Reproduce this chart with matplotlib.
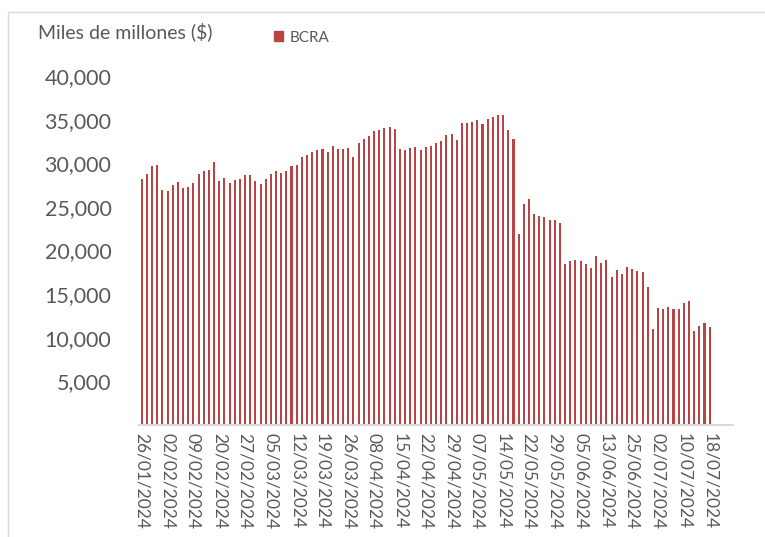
import matplotlib
matplotlib.use('Agg')
import matplotlib.pyplot as plt
from matplotlib.patches import Rectangle, Patch
from matplotlib.ticker import FuncFormatter

# BCRA, miles de millones de pesos, one value per business day
bcra = [28180, 28790, 29670, 29820, 26910, 26830, 27480, 27830, 27140, 27250,
        27750, 28750, 29090, 29200, 30120, 27940, 28360, 27750, 28060, 28180,
        28630, 28630, 27980, 27670, 28250, 28790, 29130, 28900, 29090, 29700,
        29850, 30700, 31000, 31270, 31500, 31620, 31340, 31920, 31650, 31650,
        31800, 30730, 32340, 32830, 33140, 33640, 33830, 34060, 34140, 33980,
        31620, 31460, 31770, 31850, 31500, 31850, 31960, 32300, 32530, 33220,
        33330, 32680, 34590, 34630, 34670, 34940, 34550, 35090, 35280, 35510,
        35510, 33830, 32800, 21870, 25310, 25950, 24160, 24000, 23820, 23540,
        23540, 23200, 18460, 18840, 18960, 18840, 18500, 18000, 19380, 18620,
        18920, 16930, 17740, 17320, 18120, 17930, 17630, 17550, 15830, 11010,
        13420, 13270, 13500, 13300, 13300, 14030, 14250, 10780, 11320, 11730,
        11270]

# a label every 5 bars
tick_labels = ['26/01/2024', '02/02/2024', '09/02/2024', '20/02/2024', '27/02/2024',
               '05/03/2024', '12/03/2024', '19/03/2024', '26/03/2024', '08/04/2024',
               '15/04/2024', '22/04/2024', '29/04/2024', '07/05/2024', '14/05/2024',
               '22/05/2024', '29/05/2024', '05/06/2024', '13/06/2024', '25/06/2024',
               '02/07/2024', '10/07/2024', '18/07/2024']

plt.rcParams['font.family'] = ['Lato', 'DejaVu Sans']
grey = '#595959'
red = '#B84444'

fig = plt.figure(figsize=(7.65, 5.37), dpi=100)
ax = fig.add_axes([0.182, 0.2086, 0.776, 0.6499])

x = list(range(len(bcra)))
ax.bar(x, bcra, width=0.4, color=red, zorder=2)

ax.set_xlim(-0.5, 114.5)
ax.set_ylim(0, 40000)
ax.set_yticks(range(5000, 40001, 5000))
ax.yaxis.set_major_formatter(FuncFormatter(lambda v, p: '{:,.0f}'.format(v)))
ax.set_xticks(range(0, 5 * len(tick_labels), 5))
ax.set_xticklabels(tick_labels, rotation=270, fontsize=12.5, color=grey)
ax.tick_params(axis='y', length=0, labelsize=15.5, labelcolor=grey, pad=20)
ax.tick_params(axis='x', length=0, pad=6)

for s in ['top', 'right', 'left']:
    ax.spines[s].set_visible(False)
ax.spines['bottom'].set_color('#D9D9D9')
ax.spines['bottom'].set_linewidth(1.5)

fig.text(0.05, 0.94, 'Miles de millones ($)', fontsize=14, color=grey, va='center')
fig.legend(handles=[Patch(color=red, label='BCRA')], loc='center left',
           bbox_to_anchor=(0.34, 0.93), frameon=False, fontsize=11,
           handlelength=0.6, handleheight=0.6, handletextpad=0.4,
           labelcolor=grey)

fig.patches.append(Rectangle((0.011, -0.02), 1.2, 0.998, transform=fig.transFigure,
                             fill=False, edgecolor='#D9D9D9', linewidth=1))

fig.savefig('out.png', dpi=100)
